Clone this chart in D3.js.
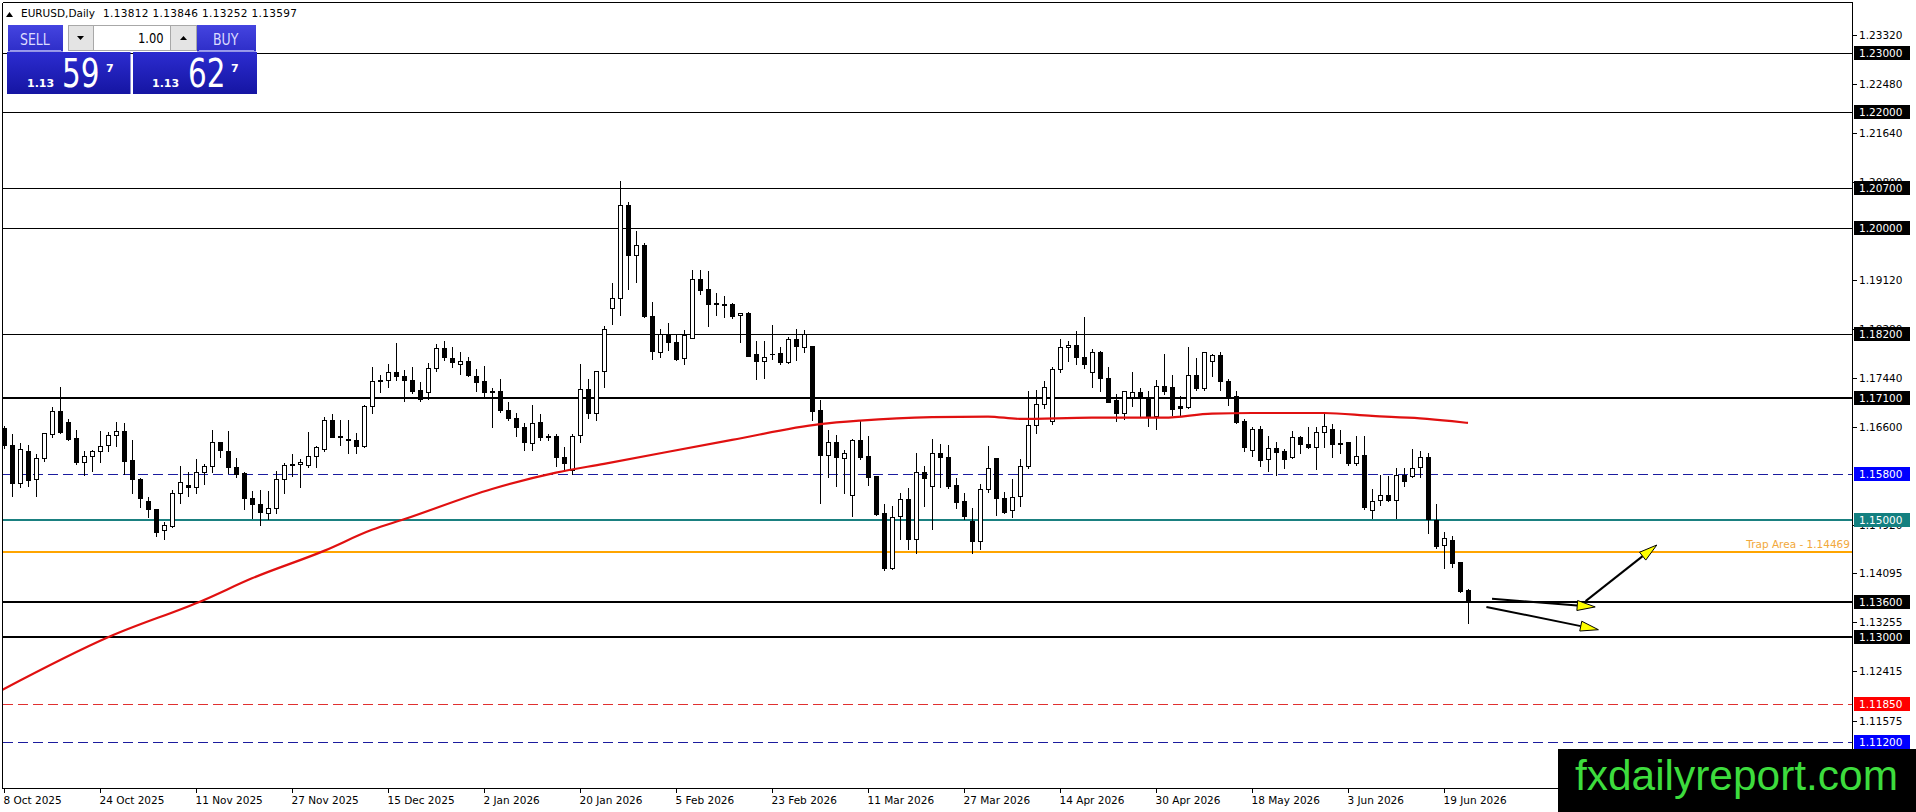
<!DOCTYPE html>
<html><head><meta charset="utf-8">
<script src="https://cdn.jsdelivr.net/npm/d3@7"></script>
<style>html,body{margin:0;padding:0;background:#fff;overflow:hidden}svg{display:block}</style>
</head><body><svg id="c" width="1916" height="812"></svg>
<script>
// ---------------- DATA ----------------
const symbolName = "EURUSD,Daily";
const headerOHLC = ["1.13812", "1.13846", "1.13252", "1.13597"];

const openP = [1.16581,1.16296,1.15639,1.16193,1.15708,1.16062,1.16479,1.16878,1.16678,1.16410,
 1.15993,1.16107,1.16187,1.16284,1.16461,1.16530,1.16039,1.15708,1.15337,1.15200,
 1.14840,1.14914,1.15468,1.15605,1.15571,1.15822,1.15925,1.16342,1.16193,1.15913,
 1.15811,1.15382,1.15285,1.15125,1.15211,1.15707,1.15964,1.15964,1.15947,1.16107,
 1.16221,1.16724,1.16450,1.16398,1.16375,1.16267,1.16952,1.17392,1.17403,1.17540,
 1.17472,1.17403,1.17238,1.17198,1.17609,1.17951,1.17780,1.17677,1.17734,1.17477,
 1.17392,1.17220,1.17219,1.16894,1.16762,1.16608,1.16325,1.16679,1.16450,1.16450,
 1.16085,1.15856,1.16456,1.17247,1.16836,1.17562,1.18646,1.18806,1.20394,1.19537,
 1.19720,1.18504,1.17893,1.18195,1.18064,1.17778,1.18133,1.19138,1.18961,1.18721,
 1.18704,1.18704,1.18515,1.18550,1.17847,1.17733,1.17847,1.17864,1.17721,1.18104,
 1.17967,1.17979,1.16894,1.16123,1.16340,1.16077,1.15437,1.16380,1.16106,1.15763,
 1.15123,1.14181,1.15078,1.15363,1.14678,1.15837,1.15592,1.16151,1.16094,1.15609,
 1.15335,1.14998,1.14655,1.15536,1.16067,1.15381,1.15182,1.15421,1.15941,1.16638,
 1.16992,1.16695,1.17591,1.17968,1.18008,1.17797,1.17534,1.17882,1.17437,1.17066,
 1.16837,1.17106,1.17208,1.17112,1.16797,1.17311,1.17283,1.16952,1.16940,1.17483,
 1.17266,1.17723,1.17825,1.17380,1.17124,1.16695,1.16199,1.16564,1.16050,1.16238,
 1.16193,1.16084,1.16438,1.16307,1.16256,1.16512,1.16564,1.16330,1.16336,1.15982,
 1.16119,1.15182,1.15353,1.15428,1.15353,1.15782,1.15765,1.15913,1.16084,1.15000,
 1.14583,1.14668,1.14297,1.13812];
const highP = [1.16638,1.16496,1.16336,1.16313,1.16153,1.16513,1.16964,1.17295,1.16753,1.16564,
 1.16199,1.16222,1.16553,1.16524,1.16701,1.16678,1.16393,1.15742,1.15411,1.15211,
 1.14994,1.15542,1.15942,1.15851,1.16067,1.15982,1.16564,1.16353,1.16553,1.16079,
 1.15839,1.15525,1.15542,1.15525,1.15867,1.16010,1.16153,1.16078,1.16535,1.16296,
 1.16792,1.16838,1.16741,1.16741,1.16507,1.16992,1.17649,1.17506,1.17694,1.18054,
 1.17592,1.17649,1.17392,1.17712,1.18037,1.18094,1.17980,1.17894,1.17809,1.17609,
 1.17666,1.17280,1.17436,1.17053,1.16865,1.16694,1.16998,1.16839,1.16496,1.16496,
 1.16268,1.16496,1.17704,1.17436,1.17579,1.18350,1.19080,1.20833,1.20462,1.19977,
 1.19766,1.18761,1.18292,1.18390,1.18218,1.18275,1.19303,1.19303,1.19292,1.18909,
 1.18863,1.18749,1.18560,1.18590,1.18093,1.18093,1.18361,1.17979,1.18161,1.18293,
 1.18281,1.17990,1.17076,1.16562,1.16483,1.16220,1.16408,1.16722,1.16465,1.15763,
 1.15306,1.15266,1.15494,1.15569,1.16180,1.15951,1.16408,1.16323,1.16305,1.15751,
 1.15483,1.15238,1.15637,1.16295,1.16067,1.15507,1.15724,1.16067,1.17237,1.17248,
 1.17408,1.17648,1.18122,1.18094,1.18265,1.18505,1.17951,1.17922,1.17637,1.17191,
 1.17237,1.17563,1.17294,1.17226,1.17426,1.17865,1.17511,1.17151,1.17991,1.17797,
 1.17894,1.17865,1.17894,1.17437,1.17238,1.16752,1.16621,1.16638,1.16467,1.16364,
 1.16238,1.16552,1.16467,1.16610,1.16610,1.16867,1.16667,1.16564,1.16353,1.16467,
 1.16467,1.15553,1.15799,1.15782,1.15913,1.15913,1.16238,1.16210,1.16181,1.15296,
 1.14822,1.14754,1.14297,1.13846];
const lowP = [1.16239,1.15422,1.15565,1.15582,1.15422,1.16027,1.16421,1.16496,1.16382,1.15970,
 1.15782,1.15850,1.16010,1.16182,1.16279,1.15793,1.15479,1.15228,1.15057,1.14743,
 1.14686,1.14897,1.15308,1.15422,1.15479,1.15628,1.15822,1.16085,1.15811,1.15742,
 1.15194,1.15039,1.14925,1.15022,1.15125,1.15479,1.15770,1.15565,1.15913,1.15924,
 1.16198,1.16421,1.16284,1.16164,1.16164,1.16250,1.16838,1.17192,1.17278,1.17397,
 1.17038,1.17181,1.17038,1.17078,1.17563,1.17740,1.17626,1.17506,1.17466,1.17209,
 1.17135,1.16608,1.16865,1.16722,1.16439,1.16199,1.16199,1.16370,1.16370,1.15936,
 1.15839,1.15799,1.16336,1.16753,1.16722,1.17293,1.18361,1.18510,1.18966,1.19080,
 1.18492,1.17767,1.17807,1.17921,1.17750,1.17676,1.18121,1.18881,1.18338,1.18521,
 1.18481,1.18475,1.18064,1.17819,1.17425,1.17447,1.17761,1.17676,1.17704,1.17750,
 1.17893,1.16722,1.15306,1.15752,1.15592,1.15466,1.15078,1.16049,1.15609,1.15095,
 1.14153,1.14164,1.14678,1.14507,1.14438,1.15249,1.14849,1.15580,1.15563,1.15209,
 1.15021,1.14450,1.14507,1.15496,1.15096,1.15124,1.15067,1.15256,1.15895,1.16506,
 1.16923,1.16649,1.17534,1.17723,1.17683,1.17603,1.17294,1.17209,1.17037,1.16695,
 1.16735,1.16952,1.16797,1.16626,1.16563,1.17163,1.16809,1.16792,1.16923,1.17237,
 1.17237,1.17477,1.17226,1.16981,1.16667,1.16193,1.16096,1.15936,1.15839,1.15782,
 1.15896,1.16067,1.16164,1.16238,1.15879,1.16256,1.16079,1.16164,1.15953,1.15953,
 1.15194,1.15039,1.15268,1.15342,1.15039,1.15582,1.15753,1.15753,1.14794,1.14525,
 1.14183,1.14200,1.13772,1.13252];
const closeP = [1.16296,1.15639,1.16222,1.15685,1.16067,1.16490,1.16873,1.16519,1.16393,1.15993,
 1.16096,1.16193,1.16273,1.16467,1.16530,1.16027,1.15708,1.15382,1.15194,1.14811,
 1.14920,1.15468,1.15656,1.15571,1.15828,1.15925,1.16342,1.16205,1.15908,1.15799,
 1.15382,1.15279,1.15142,1.15211,1.15707,1.15947,1.15947,1.15999,1.16107,1.16250,
 1.16724,1.16438,1.16427,1.16375,1.16267,1.16952,1.17392,1.17403,1.17540,1.17466,
 1.17397,1.17209,1.17078,1.17609,1.17951,1.17797,1.17706,1.17734,1.17495,1.17363,
 1.17192,1.17202,1.16894,1.16751,1.16608,1.16342,1.16667,1.16427,1.16427,1.16085,
 1.15982,1.16450,1.17247,1.16836,1.17562,1.18275,1.18806,1.20394,1.19537,1.19709,
 1.18504,1.17910,1.18195,1.18064,1.17767,1.18178,1.19132,1.18949,1.18709,1.18709,
 1.18692,1.18504,1.18550,1.17824,1.17739,1.17807,1.17853,1.17721,1.18104,1.17979,
 1.18195,1.16882,1.16123,1.16340,1.16094,1.16163,1.16380,1.16083,1.15752,1.15112,
 1.14181,1.15066,1.15363,1.14678,1.15837,1.15723,1.16151,1.16094,1.15592,1.15323,
 1.15078,1.14655,1.15535,1.15895,1.15381,1.15153,1.15410,1.15941,1.16638,1.16992,
 1.17283,1.17591,1.17968,1.17997,1.17797,1.17677,1.17882,1.17437,1.17037,1.16837,
 1.17220,1.17208,1.17123,1.16797,1.17311,1.17220,1.16906,1.16929,1.17483,1.17266,
 1.17877,1.17825,1.17380,1.17123,1.16684,1.16250,1.16564,1.16039,1.16238,1.16181,
 1.16050,1.16438,1.16307,1.16256,1.16512,1.16610,1.16307,1.16313,1.15982,1.16096,
 1.15239,1.15342,1.15428,1.15353,1.15782,1.15679,1.15896,1.16079,1.15022,1.14571,
 1.14697,1.14280,1.13800,1.13597];

// moving average (bar index, price)
const maBars = [-0.5,13,25,31,40,46,50,61,69,75,91,102,107,116,123,127,136,145,151,156,165,171,177,181,183];
const maVals = [1.1208,1.1300,1.1364,1.1401,1.1448,1.1484,1.1502,1.1554,1.1582,1.1597,1.1638,1.1665,1.1671,1.1677,1.1678,1.1674,1.1676,1.1676,1.1683,1.1684,1.1684,1.1679,1.1675,1.1670,1.1667];

// horizontal levels
const levelPrices = [1.23, 1.22, 1.207, 1.20, 1.182, 1.171, 1.158, 1.15, 1.14469, 1.136, 1.13, 1.1185, 1.112];
const levelKinds  = ["black","black","black","black","black","blackBold","blueDash","teal","trap","blackBold","blackBold","redDash","blueDash"];
const trapLabel = "Trap Area - 1.14469";

// price axis tick labels (those visible in the picture)
const yTickLabels = ["1.23320","1.22480","1.21640","1.20800","1.19120","1.18280","1.17440","1.16600","1.14920","1.14095","1.13255","1.12415","1.11575"];

// date axis
const dateLabels = ["8 Oct 2025","24 Oct 2025","11 Nov 2025","27 Nov 2025","15 Dec 2025","2 Jan 2026","20 Jan 2026","5 Feb 2026","23 Feb 2026","11 Mar 2026","27 Mar 2026","14 Apr 2026","30 Apr 2026","18 May 2026","3 Jun 2026","19 Jun 2026"];
const dateBars = [0,12,24,36,48,60,72,84,96,108,120,132,144,156,168,180];

// arrows (bar index, price)
const arrowFromBar = [186, 185.3, 197.7];
const arrowFromPrice = [1.1366, 1.1352, 1.1362];
const arrowToBar = [198.9, 199.3, 206.6];
const arrowToPrice = [1.1352, 1.1313, 1.1458];

// one-click trading panel
const sellQuote = ["1.13", "59", "7"];
const buyQuote = ["1.13", "62", "7"];
const lotSize = "1.00";
const watermark = "fxdailyreport.com";

// ---------------- STYLES ----------------
const FONT = "DejaVu Sans, Verdana, sans-serif";
const levelStyle = {
  black:     {stroke:"#000000", width:1, dash:null,   label:"#000000"},
  blackBold: {stroke:"#000000", width:2, dash:null,   label:"#000000"},
  blueDash:  {stroke:"#1c1c9e", width:1, dash:"10,5", label:"#0000ff"},
  teal:      {stroke:"#1a8080", width:2, dash:null,   label:"#138080"},
  trap:      {stroke:"#ffa500", width:2, dash:null,   label:null},
  redDash:   {stroke:"#e03030", width:1, dash:"10,5", label:"#ff0000"}
};

// ---------------- DRAW ----------------
const svg = d3.select("#c");
const plotR = 1852.5, plotB = 788.5, plotL = 2.5, plotT = 2.5;
const x = d3.scaleLinear().domain([-0.5, 231.5]).range([0, 1856]);
const y = d3.scaleLinear().domain([1.1042, 1.2386]).range([788, 3]);
const px = v => Math.round(x(v)) + 0.5;
const py = v => Math.round(y(v)) + 0.5;

const defs = svg.append("defs");
defs.append("clipPath").attr("id","clip").append("rect")
  .attr("x",3).attr("y",3).attr("width",1849).attr("height",785);
const gb = defs.append("linearGradient").attr("id","gBig").attr("x1",0).attr("y1",0).attr("x2",0).attr("y2",1);
gb.append("stop").attr("offset","0%").attr("stop-color","#2c2cd0");
gb.append("stop").attr("offset","100%").attr("stop-color","#1515a2");
const gs = defs.append("linearGradient").attr("id","gSmall").attr("x1",0).attr("y1",0).attr("x2",0).attr("y2",1);
gs.append("stop").attr("offset","0%").attr("stop-color","#4444e0");
gs.append("stop").attr("offset","100%").attr("stop-color","#2e2ec8");

svg.append("rect").attr("width",1916).attr("height",812).attr("fill","#ffffff");

const plot = svg.append("g").attr("clip-path","url(#clip)");

// level lines
const lv = d3.range(levelPrices.length);
const lvY = i => levelStyle[levelKinds[i]].width === 2 ? Math.round(y(levelPrices[i])) : py(levelPrices[i]);
plot.selectAll("line.level").data(lv).join("line")
  .attr("x1", plotL).attr("x2", plotR)
  .attr("y1", lvY).attr("y2", lvY)
  .attr("stroke", i => levelStyle[levelKinds[i]].stroke)
  .attr("stroke-width", i => levelStyle[levelKinds[i]].width)
  .attr("stroke-dasharray", i => levelStyle[levelKinds[i]].dash)
  .attr("shape-rendering","crispEdges");

// candles
const bars = d3.range(openP.length);
const cg = plot.append("g").attr("shape-rendering","crispEdges");
cg.selectAll("line.wick").data(bars).join("line")
  .attr("x1", px).attr("x2", px)
  .attr("y1", i => py(highP[i])).attr("y2", i => py(lowP[i]))
  .attr("stroke","#000").attr("stroke-width",1);
bars.forEach(i => {
  const top = py(Math.max(openP[i], closeP[i]));
  const bot = py(Math.min(openP[i], closeP[i]));
  const bull = closeP[i] >= openP[i];
  if (bot - top < 1) {
    cg.append("line").attr("x1", px(i) - 2.5).attr("x2", px(i) + 2.5)
      .attr("y1", top).attr("y2", top).attr("stroke","#000").attr("stroke-width",1);
  } else {
    cg.append("rect").attr("x", px(i) - 2).attr("width", 4)
      .attr("y", top).attr("height", bot - top)
      .attr("fill", bull ? "#ffffff" : "#000000")
      .attr("stroke","#000").attr("stroke-width",1);
  }
});

// moving average
const maLine = d3.line().x(d => x(d[0])).y(d => y(d[1])).curve(d3.curveMonotoneX);
plot.append("path").datum(maBars.map((b, k) => [b, maVals[k]]))
  .attr("d", maLine).attr("fill","none").attr("stroke","#e01010").attr("stroke-width",2.2);

// arrows
arrowFromBar.forEach((b, k) => {
  const x1 = x(b), y1 = y(arrowFromPrice[k]);
  const x2 = x(arrowToBar[k]), y2 = y(arrowToPrice[k]);
  const len = Math.hypot(x2 - x1, y2 - y1);
  const ux = (x2 - x1) / len, uy = (y2 - y1) / len;
  const L = 18, w = 5;
  const bx = x2 - ux * L, by = y2 - uy * L;
  plot.append("line").attr("x1", x1).attr("y1", y1).attr("x2", bx).attr("y2", by)
    .attr("stroke","#000").attr("stroke-width",2);
  plot.append("polygon")
    .attr("points", [[x2, y2], [bx - uy * w, by + ux * w], [bx + uy * w, by - ux * w]].map(p => p.join(",")).join(" "))
    .attr("fill","#ffff00").attr("stroke","#000").attr("stroke-width",1);
});

// trap area label
svg.append("text").attr("x", 1850).attr("y", y(1.14469) - 3.5)
  .attr("text-anchor","end").attr("font-family", FONT).attr("font-size", 10.5)
  .attr("fill","#f2a83a").text(trapLabel);

// frame
const frame = svg.append("g").attr("stroke","#000").attr("stroke-width",1).attr("shape-rendering","crispEdges");
frame.append("line").attr("x1",plotL).attr("x2",plotR).attr("y1",plotT).attr("y2",plotT);
frame.append("line").attr("x1",plotL).attr("x2",plotL).attr("y1",plotT).attr("y2",plotB);
frame.append("line").attr("x1",plotR).attr("x2",plotR).attr("y1",plotT).attr("y2",plotB);
frame.append("line").attr("x1",plotL).attr("x2",plotR).attr("y1",plotB).attr("y2",plotB);

// y ticks
const yt = svg.append("g");
yt.selectAll("line").data(yTickLabels).join("line")
  .attr("x1", plotR).attr("x2", plotR + 4)
  .attr("y1", d => py(+d)).attr("y2", d => py(+d))
  .attr("stroke","#000").attr("shape-rendering","crispEdges");
yt.selectAll("text").data(yTickLabels).join("text")
  .attr("x", 1859).attr("y", d => y(+d) + 4)
  .attr("font-family", FONT).attr("font-size", 10.5).attr("fill","#000").text(d => d);

// level labels on axis
const fmt = d3.format(".5f");
const ll = svg.append("g");
lv.filter(i => levelStyle[levelKinds[i]].label).forEach(i => {
  const yy = Math.round(y(levelPrices[i]));
  ll.append("rect").attr("x", 1854).attr("y", yy - 7).attr("width", 56).attr("height", 14)
    .attr("fill", levelStyle[levelKinds[i]].label);
  ll.append("text").attr("x", 1859).attr("y", yy + 4)
    .attr("font-family", FONT).attr("font-size", 10.5).attr("fill","#ffffff")
    .text(fmt(levelPrices[i]));
});

// date axis
const dt = svg.append("g");
dt.selectAll("line").data(dateBars).join("line")
  .attr("x1", d => px(d)).attr("x2", d => px(d)).attr("y1", plotB).attr("y2", plotB + 4)
  .attr("stroke","#000").attr("shape-rendering","crispEdges");
dt.selectAll("text").data(dateBars).join("text")
  .attr("x", d => px(d) - 1).attr("y", 804)
  .attr("font-family", FONT).attr("font-size", 10.5).attr("fill","#000")
  .text((d, k) => dateLabels[k]);

// header
svg.append("polygon").attr("points","6,17 13,17 9.5,12").attr("fill","#000");
svg.append("text").attr("x", 21).attr("y", 17).attr("font-family", FONT).attr("font-size", 10.5)
  .attr("fill","#000").text(symbolName);
svg.append("text").attr("x", 103).attr("y", 17).attr("font-family", FONT).attr("font-size", 10.5)
  .attr("fill","#000").attr("textLength", 194).attr("lengthAdjust","spacing")
  .text(headerOHLC.join(" "));

// trading panel
const tp = svg.append("g");
function smallBtn(x0, x1, label, tx, fs) {
  tp.append("rect").attr("x", x0).attr("y", 25).attr("width", x1 - x0).attr("height", 26.5).attr("fill","url(#gSmall)");
  tp.append("line").attr("x1", x0 + 2).attr("x2", x1 - 2).attr("y1", 50.5).attr("y2", 50.5)
    .attr("stroke","#9a9af0").attr("shape-rendering","crispEdges");
  tp.append("text").attr("transform", `translate(${tx},45) scale(1,1.3)`)
    .attr("font-family", FONT).attr("font-size", fs).attr("fill","#dcdcff").text(label);
}
smallBtn(8, 63, "SELL", 20, 12.5);
smallBtn(197, 256, "BUY", 213, 12.5);
tp.append("rect").attr("x", 68.5).attr("y", 25.5).attr("width", 25).attr("height", 25).attr("fill","#e4e4e4").attr("stroke","#a8a8a8");
tp.append("rect").attr("x", 93.5).attr("y", 25.5).attr("width", 77).attr("height", 25).attr("fill","#ffffff").attr("stroke","#a8a8a8");
tp.append("rect").attr("x", 170.5).attr("y", 25.5).attr("width", 26).attr("height", 25).attr("fill","#e4e4e4").attr("stroke","#a8a8a8");
tp.append("polygon").attr("points","77,36 84,36 80.5,40").attr("fill","#000");
tp.append("polygon").attr("points","180,40 187,40 183.5,36").attr("fill","#000");
tp.append("text").attr("transform","translate(138,43) scale(1,1.2)").attr("font-family", FONT).attr("font-size", 11.5)
  .attr("fill","#000").text(lotSize);

function bigBox(x0, x1, q, xs) {
  tp.append("rect").attr("x", x0).attr("y", 52).attr("width", x1 - x0).attr("height", 42).attr("fill","url(#gBig)");
  tp.append("text").attr("x", xs[0]).attr("y", 87).attr("font-family", FONT).attr("font-size", 11)
    .attr("font-weight","bold").attr("fill","#fff").text(q[0]);
  tp.append("text").attr("transform", `translate(${xs[1]},87) scale(1,1.33)`)
    .attr("font-family", FONT).attr("font-size", 29.5).attr("fill","#fff").text(q[1]);
  tp.append("text").attr("x", xs[2]).attr("y", 72).attr("font-family", FONT).attr("font-size", 11)
    .attr("font-weight","bold").attr("fill","#fff").text(q[2]);
}
bigBox(7, 130.5, sellQuote, [27, 62, 106]);
bigBox(133, 257, buyQuote, [152, 188, 231]);

// watermark
svg.append("rect").attr("x", 1558).attr("y", 749).attr("width", 358).attr("height", 63).attr("fill","#000");
svg.append("text").attr("x", 1575).attr("y", 790).attr("font-family","Liberation Sans, Arial, sans-serif")
  .attr("font-size", 42).attr("fill","#3ddc3d").attr("textLength", 323).attr("lengthAdjust","spacingAndGlyphs")
  .text(watermark);
</script>
</body></html>
